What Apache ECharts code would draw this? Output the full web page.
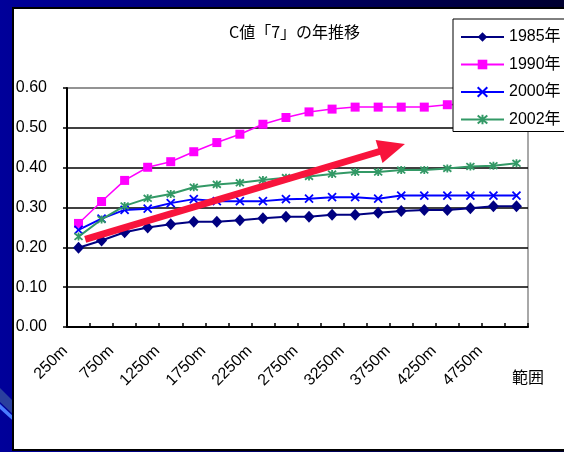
<!DOCTYPE html>
<html>
<head>
<meta charset="utf-8">
<script src="https://cdn.jsdelivr.net/npm/echarts@6/dist/echarts.min.js"></script>
<style>
  html, body { margin: 0; padding: 0; background: #000080; }
  #chart { width: 564px; height: 452px; }
</style>
</head>
<body>
<div id="chart"></div>
<script>
// Distance bands along the x axis
const ranges = ['250m','500m','750m','1000m','1250m','1500m','1750m','2000m','2250m','2500m',
                '2750m','3000m','3250m','3500m','3750m','4000m','4250m','4500m','4750m','5000m'];

// C value per year
const c1985 = [0.199,0.217,0.238,0.250,0.258,0.264,0.264,0.268,0.273,0.277,
               0.277,0.282,0.282,0.287,0.291,0.294,0.294,0.298,0.303,0.303];
const c1990 = [0.260,0.315,0.368,0.401,0.415,0.440,0.463,0.484,0.509,0.526,
               0.540,0.547,0.552,0.552,0.552,0.552,0.558,0.560,0.562,0.565];
const c2000 = [0.244,0.272,0.294,0.297,0.311,0.321,0.316,0.316,0.316,0.321,
               0.322,0.326,0.326,0.322,0.330,0.330,0.330,0.330,0.330,0.330];
const c2002 = [0.227,0.270,0.304,0.323,0.334,0.351,0.358,0.362,0.369,0.375,
               0.378,0.384,0.389,0.389,0.394,0.394,0.398,0.403,0.405,0.411];

const yearNames = ['1985年','1990年','2000年','2002年'];

// Trend arrow, in (band position, value) units
const trendFrom = [0.29, 0.220];
const trendTo = [13.6, 0.450];

const FONT = '"Liberation Sans", Arial, "Noto Sans CJK JP", sans-serif';
const CJK = '"Noto Sans CJK JP", "Liberation Sans", sans-serif';

const crossPath = 'path://M0,0L10,10M10,0L0,10';
const starPath = 'path://M0,0L10,10M10,0L0,10M5,-1L5,11';

const chart = echarts.init(document.getElementById('chart'));

function lineSeries(name, data, color, symbol, size, width, stroked) {
  return {
    name: name,
    type: 'line',
    data: data,
    symbol: symbol,
    symbolSize: size,
    showAllSymbol: true,
    lineStyle: { color: color, width: width },
    itemStyle: stroked
      ? { color: 'rgba(0,0,0,0)', borderColor: color, borderWidth: 1.8 }
      : { color: color, borderWidth: 0 },
    emphasis: { disabled: true },
    animation: false,
    z: 3
  };
}

chart.setOption({
  backgroundColor: {
    type: 'linear', x: 0, y: 0, x2: 1, y2: 0,
    colorStops: [{ offset: 0, color: '#00009a' }, { offset: 1, color: '#000030' }]
  },
  animation: false,
  graphic: {
    elements: [
      { type: 'polygon', z: -20, silent: true,
        shape: { points: [[0, 388], [30, 418], [30, 430], [0, 402]] },
        style: { fill: '#2a3f9e' } },
      { type: 'polygon', z: -19, silent: true,
        shape: { points: [[0, 404], [30, 432], [30, 436], [0, 409]] },
        style: { fill: '#4a7cff' } },
      { type: 'rect', z: -10, silent: true,
        shape: { x: 13, y: 8, width: 560, height: 442 },
        style: { fill: '#ffffff', stroke: '#000000', lineWidth: 2 } }
    ]
  },
  title: {
    text: 'C値「7」の年推移',
    left: 229,
    top: 24,
    padding: 0,
    textStyle: { fontFamily: CJK, fontSize: 16, fontWeight: 'normal', color: '#000' }
  },
  legend: {
    data: yearNames,
    orient: 'vertical',
    left: 453,
    top: 19,
    padding: [10, 30, 4, 7],
    itemWidth: 43,
    itemHeight: 12,
    itemGap: 11.5,
    backgroundColor: '#ffffff',
    borderColor: '#000000',
    borderWidth: 1,
    selectedMode: false,
    textStyle: { fontFamily: FONT, fontSize: 16, color: '#000', lineHeight: 16 },
    z: 10
  },
  grid: {
    left: 67, right: 36, top: 88, bottom: 125,
    show: true, backgroundColor: '#ffffff',
    borderColor: '#8c8c8c', borderWidth: 1.5
  },
  xAxis: [{
    type: 'category',
    data: ranges,
    boundaryGap: true,
    name: '範囲',
    nameLocation: 'end',
    nameGap: 0,
    nameTextStyle: {
      fontFamily: CJK, fontSize: 16, color: '#000',
      align: 'center', verticalAlign: 'top', padding: [42, 0, 0, 0]
    },
    axisLine: { onZero: false, lineStyle: { color: '#000', width: 2 } },
    axisTick: { show: true, inside: true, length: 4, interval: 0, lineStyle: { color: '#000', width: 1.5 } },
    axisLabel: {
      interval: 1, rotate: 45, margin: 8,
      padding: [0, 19, 0, 0],
      fontFamily: FONT, fontSize: 16, color: '#000'
    },
    splitLine: { show: false }
  }, {
    type: 'value',
    min: -0.5, max: 19.5,
    show: false
  }],
  yAxis: {
    type: 'value',
    min: 0, max: 0.6, interval: 0.1,
    axisLine: { show: true, onZero: false, lineStyle: { color: '#000', width: 2 } },
    axisTick: { show: true, length: 4, lineStyle: { color: '#000', width: 1.5 } },
    axisLabel: {
      margin: 20, fontFamily: FONT, fontSize: 16, color: '#000',
      formatter: v => v.toFixed(2)
    },
    splitLine: {
      show: true,
      lineStyle: { color: ['#000', '#000', '#000', '#000', '#000', '#000', '#8c8c8c'], width: 1.5 }
    }
  },
  series: [
    lineSeries(yearNames[0], c1985, '#000080', 'diamond', [11, 12], 2, false),
    lineSeries(yearNames[1], c1990, '#ff00ff', 'rect', 9, 1.5, false),
    lineSeries(yearNames[2], c2000, '#0000ff', crossPath, 8, 2, true),
    lineSeries(yearNames[3], c2002, '#339966', starPath, 8, 2, true),
    {
      name: 'trend',
      type: 'line',
      xAxisIndex: 1,
      data: [],
      silent: true,
      z: 5,
      markLine: {
        silent: true,
        animation: false,
        symbol: ['none', 'triangle'],
        symbolSize: [24, 27],
        label: { show: false },
        lineStyle: { color: '#f8143c', width: 7, type: 'solid' },
        itemStyle: { color: '#f8143c' },
        emphasis: { disabled: true },
        data: [[{ coord: trendFrom }, { coord: trendTo }]]
      }
    }
  ]
});
</script>
</body>
</html>
